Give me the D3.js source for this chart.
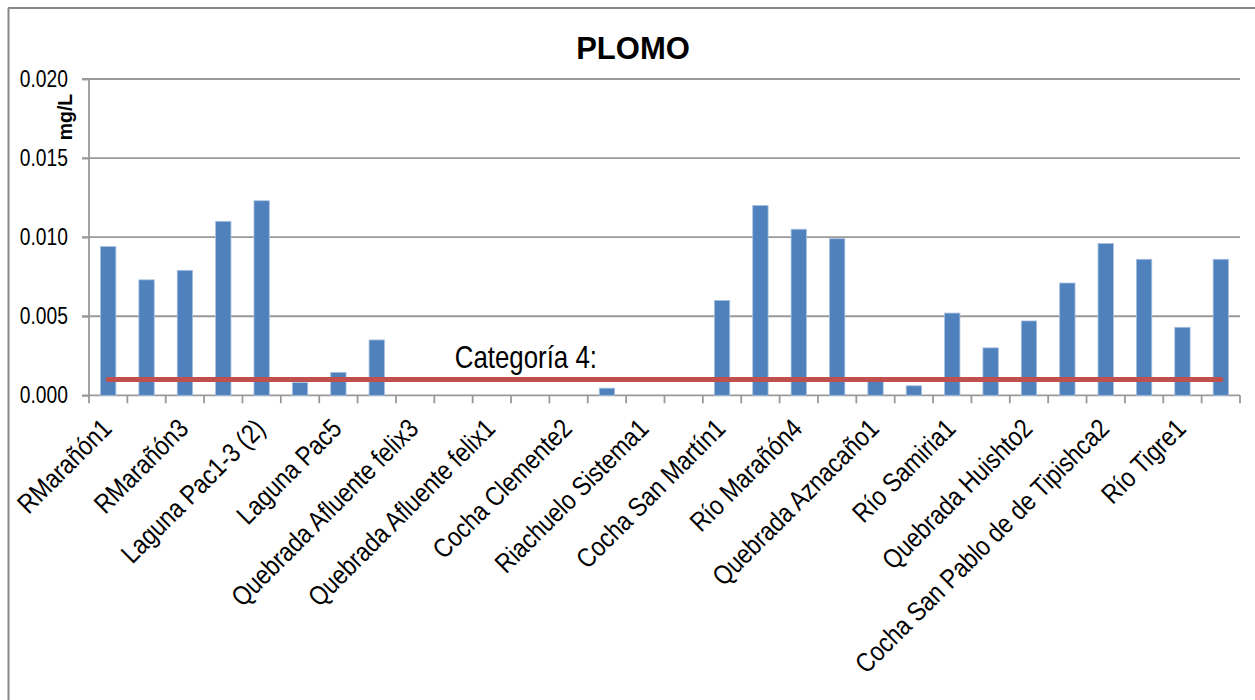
<!DOCTYPE html>
<html><head><meta charset="utf-8">
<script src="https://cdn.jsdelivr.net/npm/d3@7/dist/d3.min.js"></script>
<style>
html,body{margin:0;padding:0;background:#fff;}
svg{display:block;}
.narrow{font-family:"Liberation Sans",Arial,sans-serif;}
</style></head>
<body>
<svg id="chart" width="1255" height="700"></svg>
<script>
const categories = ["RMarañón1","RMarañón2","RMarañón3","Laguna Pac1-3 (1)","Laguna Pac1-3 (2)","Laguna Pac4","Laguna Pac5","Laguna Pac6",
 "Quebrada Afluente felix3","Quebrada Afluente felix2","Quebrada Afluente felix1","Cocha Clemente1","Cocha Clemente2","Cocha Clemente3",
 "Riachuelo Sistema1","Riachuelo Sistema2","Cocha San Martín1","Cocha San Martín2","Río Marañón4","Río Marañón5",
 "Quebrada Aznacaño1","Quebrada Aznacaño2","Río Samiria1","Quebrada Huishto1","Quebrada Huishto2","Cocha San Pablo de de Tipishca1",
 "Cocha San Pablo de de Tipishca2","Río Tigre2","Río Tigre1","Río Tigre3"];
const shownLabels = ["RMarañón1","RMarañón3","Laguna Pac1-3 (2)","Laguna Pac5","Quebrada Afluente felix3","Quebrada Afluente felix1",
 "Cocha Clemente2","Riachuelo Sistema1","Cocha San Martín1","Río Marañón4","Quebrada Aznacaño1","Río Samiria1","Quebrada Huishto2",
 "Cocha San Pablo de de Tipishca2","Río Tigre1"];
const plomo = [0.0094,0.0073,0.0079,0.0110,0.0123,0.0008,0.00145,0.0035,0,0,0,0,0,0.00045,0,0,0.0060,0.0120,0.0105,0.0099,
 0.0009,0.0006,0.0052,0.0030,0.0047,0.0071,0.0096,0.0086,0.0043,0.0086];
const limitValue = 0.001;
const limitLabel = "Categoría 4:";
const yTicks = [0,0.005,0.010,0.015,0.020];
const title = "PLOMO";
const yLabel = "mg/L";

const svg = d3.select("#chart");
const L = 89, R = 1240, T = 79, B = 395.3;
const NX = 0.82;   // horizontal condensing to mimic a narrow font
const NXL = 0.85;  // condensing for category labels
const x = d3.scaleBand().domain(categories).range([L,R]).paddingInner(0.6).paddingOuter(0.3);
const y = d3.scaleLinear().domain([0,0.020]).range([B,T]);
const fmt = d3.format(".3f");

// frame
svg.append("line").attr("x1",8.5).attr("x2",8.5).attr("y1",8).attr("y2",700).attr("stroke","#888").attr("stroke-width",2);
svg.append("line").attr("x1",8).attr("x2",1255).attr("y1",8).attr("y2",8).attr("stroke","#888").attr("stroke-width",2);

// gridlines
svg.append("g").selectAll("line").data(yTicks.filter(d=>d>0)).join("line")
  .attr("x1",L-7).attr("x2",R).attr("y1",d=>y(d)).attr("y2",d=>y(d))
  .attr("stroke","#999").attr("stroke-width",1.8);

// y axis
const ya = svg.append("g").attr("transform",`translate(${L},0)`)
  .call(d3.axisLeft(y).tickValues(yTicks).tickFormat("").tickSize(7));
ya.select(".domain").attr("stroke","#999").attr("stroke-width",1.8).attr("d",`M0,${T}V${B}`);
ya.selectAll(".tick line").attr("stroke","#999").attr("stroke-width",1.8);
ya.selectAll(".tick text").remove();
svg.append("g").selectAll("text").data(yTicks).join("text")
  .attr("class","narrow").attr("font-size",23.5).attr("fill","#000").attr("text-anchor","end")
  .attr("transform",d=>`translate(68,${y(d)+8}) scale(${NX},1)`).text(d=>fmt(d));

// x axis
const step = x.step();
const xa = svg.append("g").attr("transform",`translate(0,${B})`);
xa.append("line").attr("x1",L-7).attr("x2",R).attr("y1",0).attr("y2",0).attr("stroke","#999").attr("stroke-width",1.8);
xa.selectAll("line.t").data(d3.range(categories.length+1)).join("line").attr("class","t")
  .attr("x1",i=>L+i*step).attr("x2",i=>L+i*step).attr("y1",0).attr("y2",8)
  .attr("stroke","#999").attr("stroke-width",1.8);
xa.selectAll("text").data(shownLabels).join("text")
  .attr("class","narrow").attr("font-size",27).attr("text-anchor","end").attr("fill","#000")
  .attr("transform",d=>`translate(${x(d)+x.bandwidth()/2+5},${35}) rotate(-45) scale(${NXL},1)`)
  .text(d=>d);

// bars
svg.append("g").selectAll("rect").data(plomo).join("rect")
  .attr("x",(d,i)=>x(categories[i])).attr("width",x.bandwidth())
  .attr("y",d=>y(d)).attr("height",d=>B-y(d))
  .attr("fill","#4F81BD").attr("stroke","#a7c0e0").attr("stroke-width",0.8);

// limit line
svg.append("line")
  .attr("x1",x(categories[0])+x.bandwidth()/2).attr("x2",x(categories[categories.length-1])+x.bandwidth()/2)
  .attr("y1",y(limitValue)).attr("y2",y(limitValue))
  .attr("stroke","#C0504D").attr("stroke-width",5).attr("stroke-linecap","round");
svg.append("text").attr("class","narrow").attr("font-size",31.5).attr("fill","#000")
  .attr("transform",`translate(${x(categories[9])+9},${y(limitValue)-11}) scale(${NX},1)`).text(limitLabel);

// title
svg.append("text").attr("x",633).attr("y",59).attr("text-anchor","middle")
  .attr("font-family","'Liberation Sans',Arial,sans-serif").attr("font-weight","bold").attr("font-size",31).text(title);

// y label
svg.append("text").attr("transform",`translate(72,117) rotate(-90)`).attr("text-anchor","middle")
  .attr("font-family","'Liberation Sans',Arial,sans-serif").attr("font-weight","bold").attr("font-size",19.5).text(yLabel);
</script>
</body></html>
